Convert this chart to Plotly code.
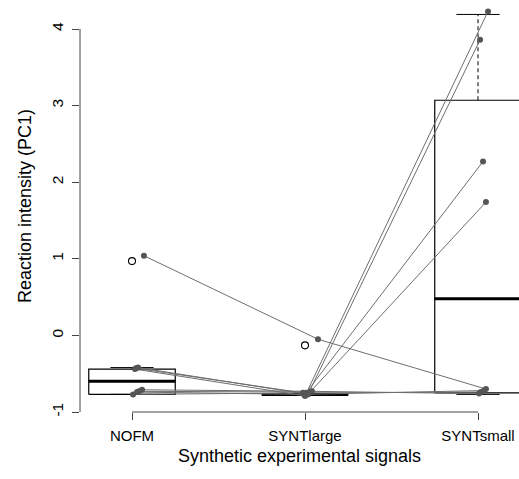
import plotly.graph_objects as go

# ---- data ----
groups = ["NOFM", "SYNTlarge", "SYNTsmall"]
positions = [1, 2, 3]

# box statistics (R-style hinges): lower whisker, Q1, median, Q3, upper whisker
lower_whisker = [-0.77, -0.78, -0.77]
q1 = [-0.77, -0.77, -0.75]
median = [-0.60, -0.77, 0.48]
q3 = [-0.44, -0.765, 3.07]
upper_whisker = [-0.42, -0.76, 4.19]

# outliers (open circles)
outlier_x = [1, 2]
outlier_y = [0.97, -0.13]

# individual subjects: jittered x positions and values in each condition
subj_x = [
    [1.069, 2.075, 3.046],
    [1.017, 2.000, 3.058],
    [1.035, 2.017, 3.012],
    [1.023, 1.988, 3.017],
    [1.006, 2.006, 3.029],
    [1.040, 2.029, 3.046],
    [1.058, 2.040, 3.006],
    [1.029, 1.994, 3.035],
]
subj_y = [
    [1.04, -0.05, -0.70],
    [-0.44, -0.79, 4.23],
    [-0.42, -0.77, 3.86],
    [-0.43, -0.75, -0.74],
    [-0.77, -0.75, 2.27],
    [-0.73, -0.74, 1.74],
    [-0.71, -0.73, -0.76],
    [-0.74, -0.77, -0.72],
]

y_ticks = [-1, 0, 1, 2, 3, 4]

# ---- styling ----
half_box = 0.25
half_cap = 0.125
font_family = "Liberation Sans, Arial, sans-serif"

fig = go.Figure()

box_x, box_y = [], []
med_x, med_y = [], []
wh_x, wh_y = [], []
cap_x, cap_y = [], []
for p, lw, a, m, b, uw in zip(positions, lower_whisker, q1, median, q3, upper_whisker):
    box_x += [p - half_box, p + half_box, p + half_box, p - half_box, p - half_box, None]
    box_y += [a, a, b, b, a, None]
    med_x += [p - half_box, p + half_box, None]
    med_y += [m, m, None]
    wh_x += [p, p, None, p, p, None]
    wh_y += [b, uw, None, a, lw, None]
    cap_x += [p - half_cap, p + half_cap, None, p - half_cap, p + half_cap, None]
    cap_y += [uw, uw, None, lw, lw, None]

fig.add_trace(go.Scatter(x=wh_x, y=wh_y, mode="lines",
                         line=dict(color="black", width=1, dash="4px,3px"), hoverinfo="skip"))
fig.add_trace(go.Scatter(x=cap_x, y=cap_y, mode="lines",
                         line=dict(color="black", width=1), hoverinfo="skip"))
fig.add_trace(go.Scatter(x=box_x, y=box_y, mode="lines",
                         line=dict(color="black", width=1.2), hoverinfo="skip"))
fig.add_trace(go.Scatter(x=med_x, y=med_y, mode="lines",
                         line=dict(color="black", width=3), hoverinfo="skip"))
fig.add_trace(go.Scatter(x=outlier_x, y=outlier_y, mode="markers",
                         marker=dict(symbol="circle-open", size=7, color="black",
                                     line=dict(width=1.1)), hoverinfo="skip"))

for xs, ys in zip(subj_x, subj_y):
    fig.add_trace(go.Scatter(x=xs, y=ys, mode="lines",
                             line=dict(color="#6e6e6e", width=1), hoverinfo="skip"))
for xs, ys in zip(subj_x, subj_y):
    fig.add_trace(go.Scatter(x=xs, y=ys, mode="markers",
                             marker=dict(size=6, color="#555555"), hoverinfo="skip"))

# axis lines spanning only the tick range (R style)
fig.add_shape(type="line", xref="x", yref="paper", x0=positions[0], x1=positions[-1],
              y0=0, y1=0, line=dict(color="#444444", width=1))
fig.add_shape(type="line", xref="paper", yref="y", x0=0, x1=0,
              y0=y_ticks[0], y1=y_ticks[-1], line=dict(color="#444444", width=1))

fig.update_layout(
    width=519, height=479,
    margin=dict(l=80, r=0, t=0, b=67),
    plot_bgcolor="white", paper_bgcolor="white",
    showlegend=False,
    font=dict(family=font_family, color="black", size=15),
    xaxis=dict(range=[0.6994, 3.237], tickvals=positions, ticktext=groups,
               automargin=False,
               showgrid=False, zeroline=False, showline=False,
               ticks="outside", ticklen=7, tickcolor="#444444",
               tickfont=dict(size=15), ticklabelstandoff=3,
               title=dict(text="Synthetic experimental signals", font=dict(size=18), standoff=6)),
    yaxis=dict(range=[-1.0, 4.3786], tickvals=y_ticks,
               ticktext=[str(v) for v in y_ticks],
               automargin=False,
               showgrid=False, zeroline=False, showline=False,
               ticks="outside", ticklen=7, tickcolor="#444444",
               tickangle=-90, tickfont=dict(size=15.5), ticklabelstandoff=3,
               title=dict(text="Reaction intensity (PC1)", font=dict(size=18), standoff=12)),
)

fig.write_html("out.html",
               config={"displayModeBar": False},
               post_script="document.body.style.margin='0';document.body.style.overflow='hidden';")
